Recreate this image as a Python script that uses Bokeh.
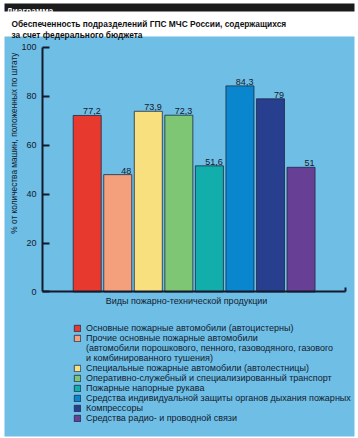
import math
from bokeh.plotting import figure
from bokeh.models import (ColumnDataSource, Range1d, FixedTicker, LinearAxis, Legend,
                          LegendItem, Label, BoxAnnotation)
from bokeh.core.properties import value
from bokeh.transform import dodge
from bokeh.embed import file_html
from bokeh.resources import INLINE

# ---- data ----
categories = [
    "Основные пожарные автомобили (автоцистерны)",
    "Прочие основные пожарные автомобили\n(автомобили порошкового, пенного, газоводяного, газового\nи комбинированного тушения)",
    "Специальные пожарные автомобили (автолестницы)",
    "Оперативно-служебный и специализированный транспорт",
    "Пожарные напорные рукава",
    "Средства индивидуальной защиты органов дыхания пожарных",
    "Компрессоры",
    "Средства радио- и проводной связи",
]
value_labels = ["77,2", "48", "73,9", "72,3", "51,6", "84,3", "79", "51"]
# bar heights as drawn in the picture (first bar is drawn lower than its label)
bar_heights = [72.2, 48, 73.9, 72.3, 51.6, 84.3, 79, 51]
colors = ["#e8392e", "#f4a07c", "#f8e07e", "#7ec673", "#12aeac", "#0a86cf", "#273f8e", "#673f95"]
y_ticks = [0, 20, 40, 60, 80, 100]

FONT = "Liberation Sans"
BLUE = "#6ebee6"
INK = "#141a2c"

AX0, AX1 = -1.46, 8.46     # extent of the drawn category axis

idx = list(range(len(categories)))
src = ColumnDataSource(dict(x=idx, top=bar_heights, color=colors, lab=value_labels))

p = figure(width=358, height=438, x_range=Range1d(-2.838, 8.881), y_range=Range1d(-59.92, 119.22),
           output_backend="svg", toolbar_location=None,
           x_axis_type=None, y_axis_type=None, min_border=0,
           background_fill_color="white", border_fill_color="white", outline_line_color=None)
p.grid.visible = False

# blue panel and black header strip
p.add_layout(BoxAnnotation(left=-2.707, right=8.750, bottom=-59.10, top=104.50,
                           fill_color=BLUE, fill_alpha=1, line_color=None, level="underlay"))
p.add_layout(BoxAnnotation(left=-2.707, right=8.750, bottom=114.72, top=118.0,
                           fill_color="#1b1b1b", fill_alpha=1, line_color=None, level="underlay"))

bars = p.vbar(x="x", top="top", bottom=0, width=0.917, source=src, fill_color="color",
              line_color="#1e2a44", line_width=0.8)
p.text(x=dodge("x", 0.44), y="top", text="lab", source=src, text_align="right",
       text_baseline="bottom", y_offset=-1, text_font=value(FONT), text_font_size="9px",
       text_color=INK)

yaxis = LinearAxis(ticker=FixedTicker(ticks=y_ticks), bounds=(0, 100), fixed_location=AX0,
                   axis_line_width=2, axis_line_color=INK,
                   major_tick_in=7, major_tick_out=0, major_tick_line_width=2,
                   major_tick_line_color=INK, minor_tick_line_color=None,
                   major_label_text_font=FONT, major_label_text_font_size="9px",
                   major_label_text_color=INK, major_label_standoff=6)
p.add_layout(yaxis, "left")

xaxis = LinearAxis(ticker=FixedTicker(ticks=[AX1]), bounds=(AX0, AX1), fixed_location=0,
                   axis_line_width=2, axis_line_color=INK,
                   major_tick_in=4, major_tick_out=0, major_tick_line_width=2,
                   major_tick_line_color=INK, minor_tick_line_color=None,
                   major_label_text_font_size="0px", major_label_standoff=0)
p.add_layout(xaxis, "below")

p.add_layout(Label(x=3.25, y=0, y_offset=-4, text="Виды пожарно-технической продукции",
                   text_align="center", text_baseline="top", text_font=FONT,
                   text_font_size="9px", text_color=INK))

p.add_layout(Label(x=AX0, y=100, x_offset=-29, y_offset=-5, angle=math.pi / 2,
                   text="% от количества машин, положенных по штату",
                   text_align="right", text_baseline="middle", text_font=FONT,
                   text_font_size="8.3px", text_color=INK))

# ---- header texts ----
p.add_layout(Label(x=-2.642, y=115.1, text="Диаграмма", text_color="white", text_font=FONT,
                   text_font_style="bold", text_font_size="8.5px", text_baseline="alphabetic"))
p.add_layout(Label(x=-2.48, y=109.8, text="Обеспеченность подразделений ГПС МЧС России, содержащихся",
                   text_color="#111111", text_font=FONT, text_font_style="bold",
                   text_font_size="8.4px", text_baseline="alphabetic"))
p.add_layout(Label(x=-2.48, y=105.3, text="за счет федерального бюджета",
                   text_color="#111111", text_font=FONT, text_font_style="bold",
                   text_font_size="8.4px", text_baseline="alphabetic"))

# ---- legend ----
dummy = p.vbar(x=[], top=[], width=0.5, fill_alpha=0, line_alpha=0)
items = []
for i, cat in enumerate(categories):
    lines = cat.split("\n")
    items.append(LegendItem(label=lines[0], renderers=[bars], index=i))
    for extra in lines[1:]:
        items.append(LegendItem(label=extra, renderers=[dummy]))

legend = Legend(items=items, location=(73, 15), glyph_width=8, glyph_height=8,
                label_height=9, spacing=0, label_standoff=5, padding=0, margin=0,
                border_line_color=None, background_fill_alpha=0,
                label_text_font=FONT, label_text_font_size="9px", label_text_color=INK)
p.add_layout(legend, "center")

open("out.html", "w").write(file_html(p, INLINE))
